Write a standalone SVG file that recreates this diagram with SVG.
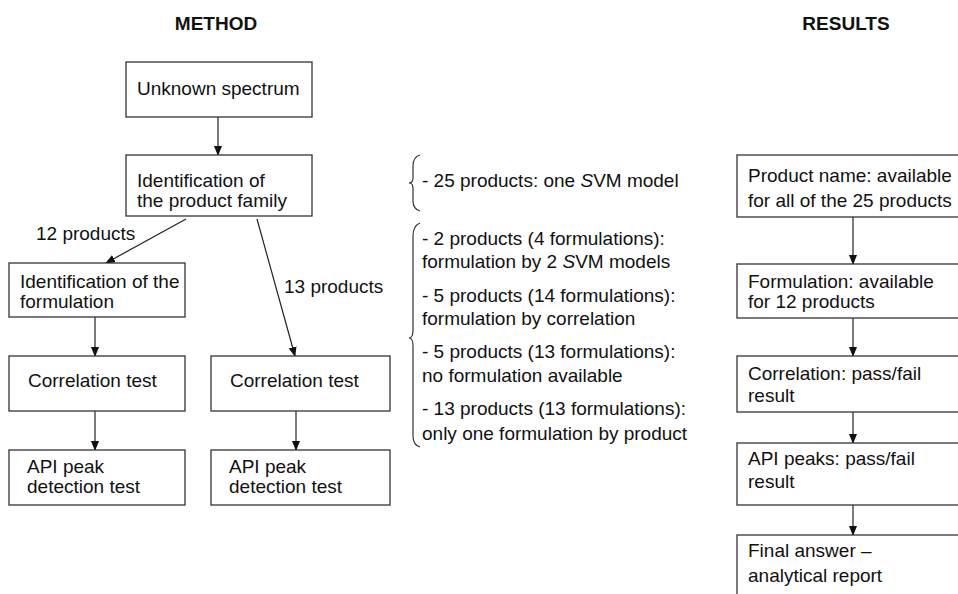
<svg xmlns="http://www.w3.org/2000/svg" width="958" height="594" viewBox="0 0 958 594">
<style>
text{font-family:"Liberation Sans",Arial,sans-serif;font-size:19px;fill:#111}
.t{font-weight:bold;font-size:19px;text-anchor:middle}
.b{fill:#fff;stroke:#333;stroke-width:1.3}
.c line{stroke:#222;stroke-width:1.2;marker-end:url(#ah)}
.br{fill:none;stroke:#333;stroke-width:1.2}
</style>
<defs>
<marker id="ah" markerWidth="10" markerHeight="10" refX="9" refY="4" orient="auto" markerUnits="userSpaceOnUse" viewBox="0 0 10 8">
<path d="M0,0 L10,4 L0,8 Z" fill="#111"/>
</marker>
</defs>
<rect width="958" height="594" fill="#fff"/>
<text class="t" x="216" y="30">METHOD</text>
<text class="t" x="846" y="30">RESULTS</text>

<g class="c">
<line x1="218" y1="117" x2="218" y2="155"/>
<line x1="186" y1="219" x2="106" y2="263"/>
<line x1="257" y1="219" x2="295" y2="356"/>
<line x1="95" y1="317" x2="95" y2="356"/>
<line x1="95" y1="411" x2="95" y2="450"/>
<line x1="296" y1="411" x2="296" y2="450"/>
<line x1="853" y1="217" x2="853" y2="264"/>
<line x1="853" y1="318" x2="853" y2="356"/>
<line x1="853" y1="412" x2="853" y2="443"/>
<line x1="853" y1="505" x2="853" y2="535"/>
</g>
<text x="36" y="240">12 products</text>
<text x="284" y="293">13 products</text>

<g id="n1"><rect class="b" x="126" y="62" width="186" height="55"/><text x="137" y="95">Unknown spectrum</text></g>
<g id="n2"><rect class="b" x="126" y="155" width="186" height="61"/><text x="137" y="187">Identification of</text><text x="137" y="207">the product family</text></g>
<g id="n3"><rect class="b" x="9" y="263" width="176" height="54"/><text x="20" y="288">Identification of the</text><text x="20" y="308">formulation</text></g>
<g id="n4"><rect class="b" x="9" y="356" width="176" height="55"/><text x="28" y="387">Correlation test</text></g>
<g id="n5"><rect class="b" x="211" y="356" width="179" height="55"/><text x="230" y="387">Correlation test</text></g>
<g id="n6"><rect class="b" x="9" y="450" width="176" height="55"/><text x="27" y="473">API peak</text><text x="27" y="493">detection test</text></g>
<g id="n7"><rect class="b" x="211" y="450" width="179" height="55"/><text x="229" y="473">API peak</text><text x="229" y="493">detection test</text></g>

<g id="notes">
<path class="br" d="M420,155 Q413,157 413,166 L413,178 Q413,183 409,183 Q413,183 413,188 L413,201 Q413,209 420,211"/>
<text x="422" y="187">- 25 products: one <tspan font-style="italic">S</tspan>VM model</text>
<path class="br" d="M420,223 Q413,226 413,236 L413,330 Q413,338 409,338 Q413,338 413,346 L413,436 Q413,445 420,447"/>
<text x="422" y="245">- 2 products (4 formulations):</text>
<text x="422" y="268">formulation by 2 <tspan font-style="italic">S</tspan>VM models</text>
<text x="422" y="302">- 5 products (14 formulations):</text>
<text x="422" y="325">formulation by correlation</text>
<text x="422" y="358">- 5 products (13 formulations):</text>
<text x="422" y="382">no formulation available</text>
<text x="422" y="415">- 13 products (13 formulations):</text>
<text x="422" y="440">only one formulation by product</text>
</g>

<g id="r1"><rect class="b" x="737" y="155" width="240" height="62"/><text x="748" y="182">Product name: available</text><text x="748" y="207">for all of the 25 products</text></g>
<g id="r2"><rect class="b" x="737" y="264" width="240" height="54"/><text x="748" y="288">Formulation: available</text><text x="748" y="308">for 12 products</text></g>
<g id="r3"><rect class="b" x="737" y="356" width="240" height="56"/><text x="748" y="380">Correlation: pass/fail</text><text x="748" y="402">result</text></g>
<g id="r4"><rect class="b" x="737" y="443" width="240" height="62"/><text x="748" y="465">API peaks: pass/fail</text><text x="748" y="488">result</text></g>
<g id="r5"><rect class="b" x="737" y="535" width="240" height="80"/><text x="748" y="557">Final answer –</text><text x="748" y="582">analytical report</text></g>
</svg>
